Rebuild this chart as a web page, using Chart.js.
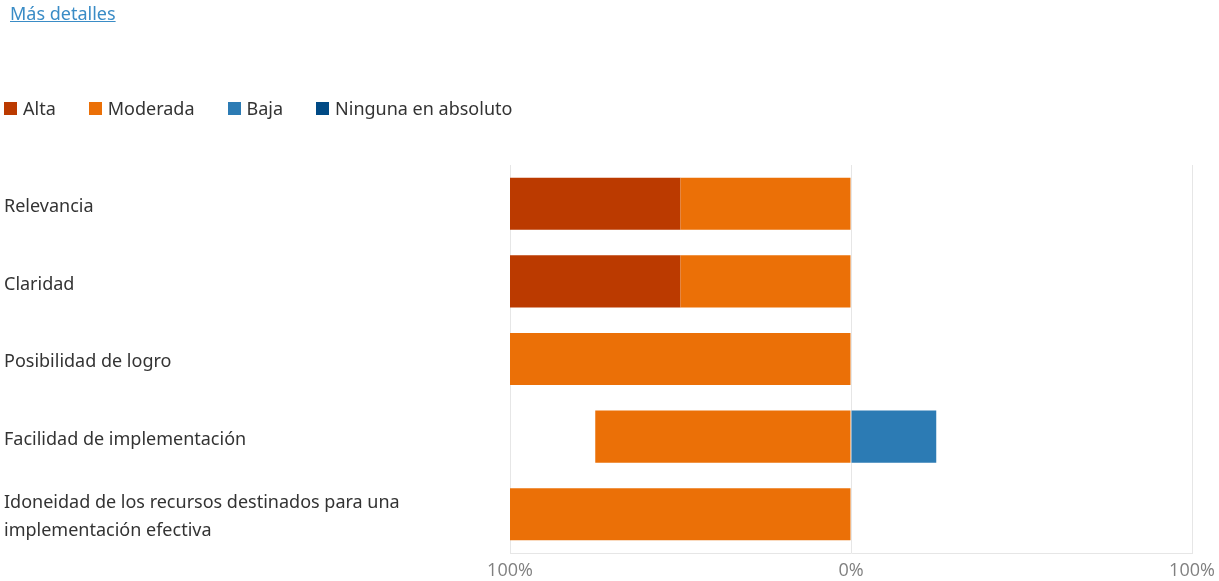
<!DOCTYPE html>
<html lang="es">
<head>
<meta charset="UTF-8">
<title>Evaluación</title>
<style>
    body {
        margin: 0;
        background: #ffffff;
        font-family: 'Noto Sans', sans-serif;
    }
    .more {
        position: absolute;
        left: 10px;
        top: 1px;
        font-size: 18px;
        color: #3a8cc6;
        text-decoration: underline;
        z-index: 2;
    }
    .legend {
        position: absolute;
        left: 4px;
        top: 96px;
        display: flex;
        font-size: 18px;
        color: #333;
        z-index: 2;
    }
    .legend .item {
        display: flex;
        align-items: center;
        margin-right: 33px;
    }
    .legend .box {
        width: 13px;
        height: 13px;
        margin-right: 6px;
    }
    .wrap {
        position: absolute;
        left: 0;
        top: 0;
        width: 1219px;
        height: 581px;
    }
</style>
</head>
<body>
<a class="more" href="#">Más detalles</a>
<div class="legend" id="legend"></div>
<div class="wrap"><canvas id="chart"></canvas></div>
<script src="https://cdn.jsdelivr.net/npm/chart.js@4.4.0/dist/chart.umd.min.js"></script>
<script>
    const categories = [
        'Relevancia',
        'Claridad',
        'Posibilidad de logro',
        'Facilidad de implementación',
        ['Idoneidad de los recursos destinados para una', 'implementación efectiva']
    ];
    // percentages; Alta and Moderada go to the left side
    const alta = [50, 50, 0, 0, 0];
    const moderada = [50, 50, 100, 75, 100];
    const baja = [0, 0, 0, 25, 0];
    const ninguna = [0, 0, 0, 0, 0];
    const xTicks = [-100, 0, 100];

    const neg = arr => arr.map(v => -v);

    const chart = new Chart(document.getElementById('chart'), {
        type: 'bar',
        data: {
            labels: categories,
            datasets: [
                { label: 'Alta', data: neg(alta), backgroundColor: '#bb3a00', order: 2 },
                { label: 'Moderada', data: neg(moderada), backgroundColor: '#eb7007', order: 1 },
                { label: 'Baja', data: baja, backgroundColor: '#2c7bb4', order: 3 },
                { label: 'Ninguna en absoluto', data: ninguna, backgroundColor: '#004a85', order: 4 }
            ]
        },
        options: {
            indexAxis: 'y',
            responsive: true,
            maintainAspectRatio: false,
            animation: false,
            categoryPercentage: 0.8,
            barPercentage: 0.84,
            layout: { padding: { left: 4, right: 27, top: 165, bottom: 0 } },
            plugins: {
                legend: { display: false },
                tooltip: { enabled: false }
            },
            scales: {
                x: {
                    stacked: true,
                    min: -100,
                    max: 100,
                    afterBuildTicks: s => { s.ticks = xTicks.map(v => ({ value: v })); },
                    afterFit: s => {
                        s.height = 28;
                        s.paddingLeft = 0;
                        s.paddingRight = 0;
                    },
                    grid: { color: '#e6e6e6', drawTicks: false },
                    border: { color: '#e6e6e6' },
                    ticks: {
                        padding: 7,
                        color: '#808080',
                        font: { family: 'Open Sans', size: 18 },
                        callback: v => Math.abs(v) + '%'
                    }
                },
                y: {
                    stacked: true,
                    grid: { display: false },
                    border: { display: false },
                    afterFit: s => { s.width = 506; },
                    ticks: {
                        crossAlign: 'far',
                        labelOffset: 3,
                        color: '#333',
                        font: { family: 'Noto Sans', size: 18, lineHeight: 1.55 }
                    }
                }
            }
        }
    });

    // html legend in dataset order
    const legend = document.getElementById('legend');
    chart.data.datasets.forEach(ds => {
        const item = document.createElement('div');
        item.className = 'item';
        const box = document.createElement('span');
        box.className = 'box';
        box.style.background = ds.backgroundColor;
        item.appendChild(box);
        item.appendChild(document.createTextNode(ds.label));
        legend.appendChild(item);
    });
</script>
</body>
</html>
